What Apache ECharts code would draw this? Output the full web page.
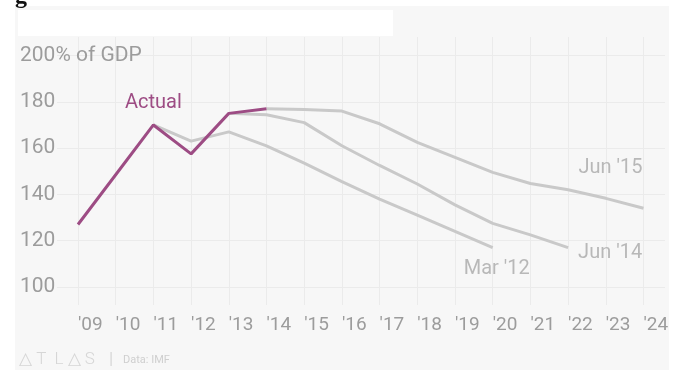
<!DOCTYPE html>
<html>
<head>
<meta charset="utf-8">
<script src="https://cdn.jsdelivr.net/npm/echarts@6/dist/echarts.min.js"></script>
<style>
  html, body { margin: 0; padding: 0; background: #ffffff; }
  #chart { width: 676px; height: 370px; }
</style>
</head>
<body>
<div id="chart"></div>
<script>
// Japan gross government debt, % of GDP (IMF), actual vs. forecast vintages
const years = ["'09", "'10", "'11", "'12", "'13", "'14", "'15", "'16",
               "'17", "'18", "'19", "'20", "'21", "'22", "'23", "'24"];

const actual = [127, 148.5, 170, 157.5, 175, 177, null, null,
                null, null, null, null, null, null, null, null];
const mar12  = [null, null, 170, 163, 167, 161, 153.5, 145.5,
                138, 131, 124, 117, null, null, null, null];
const jun14  = [null, null, null, null, 175, 174.4, 171, 161,
                152.5, 144.5, 135.5, 127.5, 122.5, 117, null, null];
const jun15  = [null, null, null, null, null, 177, 176.7, 176,
                170.5, 162.5, 156, 149.5, 144.7, 142, 138.3, 134];

const yTicks = [100, 120, 140, 160, 180, 200];

const FONT = 'Roboto, "Noto Sans", sans-serif';
const PURPLE = '#9d4c84';
const GREY_LINE = '#c9c9c9';
const GREY_TEXT = '#b8b8b8';

const chart = echarts.init(document.getElementById('chart'), null, { renderer: 'canvas' });

function forecast(name, data, endLabel) {
  return {
    name: name, type: 'line', data: data,
    xAxisIndex: 0, yAxisIndex: 0,
    showSymbol: false, symbol: 'none', connectNulls: false,
    lineStyle: { color: GREY_LINE, width: 3 },
    endLabel: Object.assign({
      show: true, formatter: name,
      color: GREY_TEXT, fontFamily: FONT, fontSize: 20
    }, endLabel),
    z: 2, silent: true, animation: false
  };
}

chart.setOption({
  backgroundColor: '#ffffff',
  animation: false,
  graphic: [
    { type: 'rect', shape: { x: 15, y: 6, width: 654, height: 364 },
      style: { fill: '#f7f7f7' }, z: -10 },
    { type: 'rect', shape: { x: 18, y: 10, width: 375, height: 26 },
      style: { fill: '#ffffff' }, z: -9 },
    { type: 'text', left: 15, top: -15,
      style: { text: 'g', fill: '#111', font: 'bold 24px "Liberation Serif", serif' } },
    { type: 'text', left: 19, top: 351,
      style: { text: '\u25B3 T  L \u25B3 S', fill: '#d6d6d6', font: '300 17px ' + FONT } },
    { type: 'text', left: 109, top: 351,
      style: { text: '|', fill: '#d6d6d6', font: '17px ' + FONT } },
    { type: 'text', left: 123, top: 355,
      style: { text: 'Data: IMF', fill: '#cfcfcf', font: '11px ' + FONT } }
  ],
  grid: [
    { left: 78, right: 32.5, top: 55.5, bottom: 83 },   // data
    { left: 78, right: 32.5, top: 37, bottom: 65 },     // vertical rules + year labels
    { left: 57, right: 11, top: 55.5, bottom: 83 }      // horizontal rules + value labels
  ],
  xAxis: [
    { type: 'category', gridIndex: 0, data: years, boundaryGap: false,
      axisLine: { show: false }, axisTick: { show: false },
      axisLabel: { show: false }, splitLine: { show: false } },
    { type: 'category', gridIndex: 1, data: years, boundaryGap: false,
      axisLine: { show: false }, axisTick: { show: false },
      axisLabel: { show: true, interval: 0, align: 'left', margin: 11,
                   color: '#9c9c9c', fontFamily: FONT, fontSize: 19 },
      splitLine: { show: true, interval: 0, lineStyle: { color: '#ebebeb', width: 1 } } },
    { type: 'value', gridIndex: 2, min: 0, max: 1, show: false }
  ],
  yAxis: [
    { type: 'value', gridIndex: 0, min: yTicks[0], max: yTicks[yTicks.length - 1],
      interval: 20, show: false },
    { type: 'value', gridIndex: 1, min: 0, max: 1, show: false },
    { type: 'value', gridIndex: 2, min: yTicks[0], max: yTicks[yTicks.length - 1],
      interval: 20,
      axisLine: { show: false }, axisTick: { show: false },
      axisLabel: { show: true, align: 'left', margin: 37, color: '#9c9c9c',
                   fontFamily: FONT, fontSize: 21,
                   formatter: v => v === 200 ? '200% of GDP' : String(v) },
      splitLine: { show: true, lineStyle: { color: '#ebebeb', width: 1 } } }
  ],
  series: [
    forecast("Mar '12", mar12, { distance: 0, align: 'center', verticalAlign: 'middle', offset: [4, 21] }),
    forecast("Jun '14", jun14, { distance: 10, align: 'left', verticalAlign: 'middle', offset: [0, 5] }),
    forecast("Jun '15", jun15, { distance: 0, align: 'right', verticalAlign: 'middle', offset: [-1, -40] }),
    {
      name: 'Actual', type: 'line', data: actual,
      xAxisIndex: 0, yAxisIndex: 0,
      showSymbol: false, symbol: 'none',
      lineStyle: { color: PURPLE, width: 3 },
      z: 3, silent: true, animation: false,
      markPoint: {
        symbol: 'circle', symbolSize: 0, silent: true, animation: false,
        data: [{ coord: [years[2], actual[2]],
                 label: { show: true, formatter: 'Actual', position: 'top', distance: 12,
                          color: PURPLE, fontFamily: FONT, fontSize: 20 } }]
      }
    }
  ]
});
</script>
</body>
</html>
